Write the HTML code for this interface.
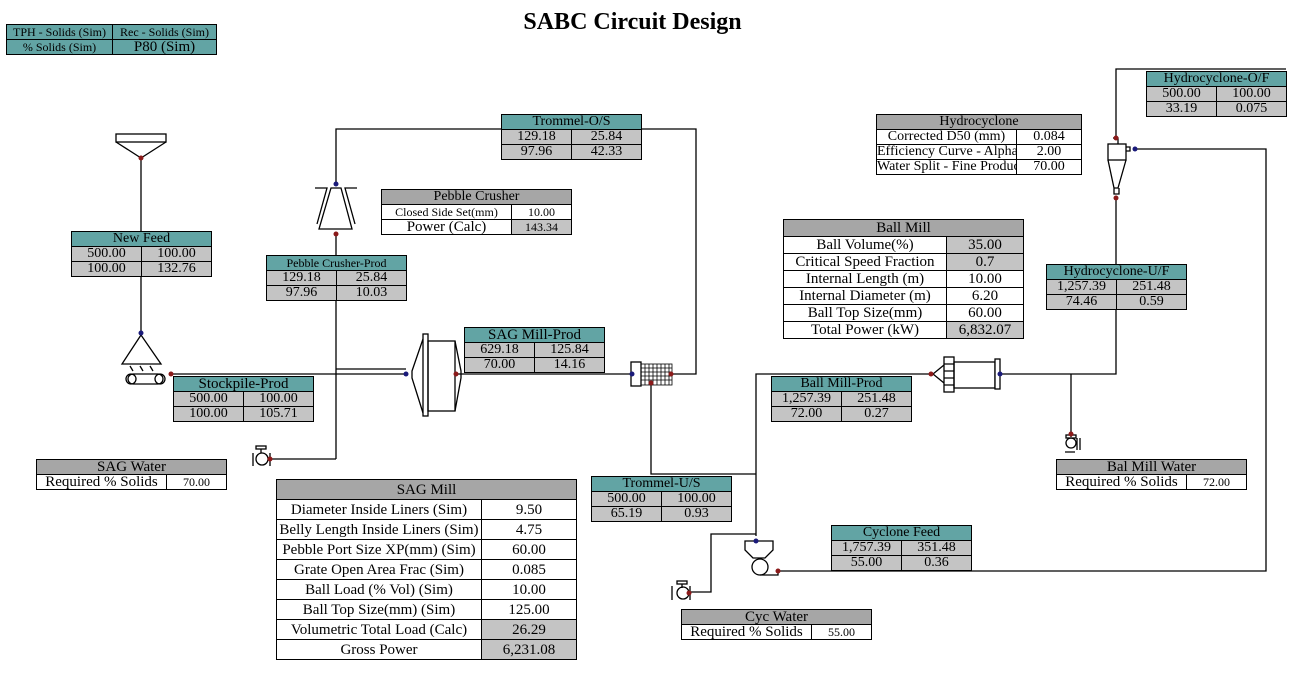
<!DOCTYPE html>
<html><head><meta charset="utf-8"><style>
body{margin:0;width:1297px;height:676px;background:#fff;position:relative;overflow:hidden;font-family:"Liberation Serif",serif;}
.t{position:absolute;border-collapse:collapse;font-size:14px;line-height:14px;table-layout:fixed}
.t td{border:1px solid #000;padding:0 2px;text-align:center;white-space:nowrap;overflow:hidden;height:14px}
.h{background:#62a4a4}
.g{background:#c4c4c4}
.d{background:#a6a6a6}
.w{background:#fff}
svg{position:absolute;left:0;top:0}
#title{position:absolute;left:0;width:1265px;top:9px;text-align:center;font-weight:bold;font-size:24px}
</style></head><body>
<svg width="1297" height="676" fill="none" stroke="#000" stroke-width="1.3">
<rect x="116" y="134" width="50" height="8" fill="#fff"/>
<path d="M116 142 L141 158 L166 142"/>
<line x1="141" y1="158" x2="141" y2="333"/>
<path d="M141 335 L122 364 L161 364 Z"/>
<path d="M130 366 l3 5 M140 366 l3 5 M150 366 l3 5"/>
<rect x="128" y="374" width="35" height="10" rx="5"/>
<circle cx="131" cy="379" r="5"/><circle cx="160" cy="379" r="5"/>
<line x1="171" y1="374" x2="406" y2="374"/>
<line x1="336" y1="369" x2="406" y2="369"/>
<path d="M315 188 L327 188 L317 224 M357 188 L345 188 L355 224 M331 188 L341 188 L352 229 L319 229 Z"/>
<path d="M336 184 L336 129 L501 129 M641 129 L696 129 L696 374 L671 374"/>
<line x1="336" y1="234" x2="336" y2="459"/>
<line x1="271" y1="459" x2="336" y2="459"/>
<rect x="256" y="446" width="10" height="3"/><line x1="261" y1="449" x2="261" y2="453"/>
<circle cx="262" cy="459" r="6"/><path d="M253 453v13M270 453v13"/>
<rect x="423" y="334" width="5" height="82" fill="#fff"/>
<rect x="428" y="341" width="27" height="70"/>
<path d="M423 339 L412 371 L412 378 L423 413 M455 341 L461 371 L461 378 L455 411"/>
<line x1="456" y1="374" x2="632" y2="374"/>
<rect x="631" y="362" width="10" height="24" fill="#fff"/>
<g stroke-width="0.8"><rect x="641" y="364" width="31" height="21"/>
<path d="M641 368h31M641 372h31M641 376h31M641 380h31M645 364v21M649 364v21M653 364v21M657 364v21M661 364v21M665 364v21M669 364v21"/></g>
<path d="M651 383 L651 474 L756 474"/>
<path d="M756 536 L756 374 L931 374"/>
<path d="M933 374 L944 365 M933 374 L944 383"/>
<rect x="944" y="357" width="10" height="35" fill="#fff"/>
<path d="M944 364h10M944 371h10M944 378h10M944 385h10"/>
<rect x="954" y="362" width="41" height="26"/>
<rect x="995" y="359" width="5" height="30" fill="#fff"/>
<path d="M1000 374 L1116 374 L1116 198"/>
<path d="M1071 374 L1071 437"/>
<rect x="1066" y="435" width="10" height="3"/><circle cx="1071" cy="443" r="5"/><path d="M1065 452h10M1077 438v12M1080 438v12"/>
<path d="M745 541 L773 541 L773 550 L765 558 L753 558 L745 550 Z"/>
<circle cx="760" cy="567" r="8"/><path d="M760 575 L778 575 L778 569"/>
<path d="M778 571 L1266 571 L1266 149 L1135 149"/>
<path d="M690 592 L711 592 L711 534 L756 534"/>
<rect x="677" y="581" width="10" height="3"/><line x1="682" y1="584" x2="682" y2="588"/>
<circle cx="683" cy="593" r="6"/><path d="M672 586v14M690 586v14"/>
<rect x="1108" y="144" width="18" height="16"/>
<path d="M1108 160 L1114 188 L1118 188 L1126 160 M1114 188v6h5v-6"/>
<path d="M1113 138 h5 v6 M1126 147 h4 v4 h-4"/>
<path d="M1116 138 L1116 69 L1286 69"/>
<g stroke="none">
<circle cx="141" cy="158" r="2.5" fill="#8b1a1a"/>
<circle cx="141" cy="333" r="2.5" fill="#1a1a7a"/>
<circle cx="171" cy="374" r="2.5" fill="#8b1a1a"/>
<circle cx="336" cy="184" r="2.5" fill="#1a1a7a"/>
<circle cx="336" cy="234" r="2.5" fill="#8b1a1a"/>
<circle cx="406" cy="374" r="2.5" fill="#1a1a7a"/>
<circle cx="456" cy="374" r="2.5" fill="#8b1a1a"/>
<circle cx="270" cy="459" r="2.5" fill="#8b1a1a"/>
<circle cx="632" cy="374" r="2.5" fill="#1a1a7a"/>
<circle cx="671" cy="374" r="2.5" fill="#8b1a1a"/>
<circle cx="651" cy="383" r="2.5" fill="#8b1a1a"/>
<circle cx="931" cy="374" r="2.5" fill="#8b1a1a"/>
<circle cx="1000" cy="374" r="2.5" fill="#1a1a7a"/>
<circle cx="1116" cy="138" r="2.5" fill="#8b1a1a"/>
<circle cx="1116" cy="198" r="2.5" fill="#8b1a1a"/>
<circle cx="1135" cy="149" r="2.5" fill="#1a1a7a"/>
<circle cx="756" cy="541" r="2.5" fill="#1a1a7a"/>
<circle cx="778" cy="571" r="2.5" fill="#8b1a1a"/>
<circle cx="689" cy="593" r="2.5" fill="#8b1a1a"/>
<circle cx="1071" cy="434" r="2.5" fill="#8b1a1a"/>
</g>
</svg>
<div id="title">SABC Circuit Design</div>

<table class="t" style="left:6px;top:24px;width:211px;font-size:12px"><col style="width:106px"><col>
<tr><td class="h">TPH - Solids (Sim)</td><td class="h">Rec - Solids (Sim)</td></tr>
<tr><td class="h">% Solids (Sim)</td><td class="h" style="font-size:15px">P80 (Sim)</td></tr></table>

<table class="t" style="left:71px;top:231px;width:141px"><col style="width:70px"><col>
<tr><td colspan="2" class="h">New Feed</td></tr>
<tr><td class="g">500.00</td><td class="g">100.00</td></tr>
<tr><td class="g">100.00</td><td class="g">132.76</td></tr></table>

<table class="t" style="left:266px;top:255px;width:141px"><col style="width:70px"><col>
<tr><td colspan="2" class="h" style="font-size:12px">Pebble Crusher-Prod</td></tr>
<tr><td class="g">129.18</td><td class="g">25.84</td></tr>
<tr><td class="g">97.96</td><td class="g">10.03</td></tr></table>

<table class="t" style="left:501px;top:114px;width:141px"><col style="width:70px"><col>
<tr><td colspan="2" class="h">Trommel-O/S</td></tr>
<tr><td class="g">129.18</td><td class="g">25.84</td></tr>
<tr><td class="g">97.96</td><td class="g">42.33</td></tr></table>

<table class="t" style="left:464px;top:327px;width:141px"><col style="width:70px"><col>
<tr><td colspan="2" class="h" style="font-size:15px">SAG Mill-Prod</td></tr>
<tr><td class="g">629.18</td><td class="g">125.84</td></tr>
<tr><td class="g">70.00</td><td class="g">14.16</td></tr></table>

<table class="t" style="left:173px;top:376px;width:141px"><col style="width:70px"><col>
<tr><td colspan="2" class="h" style="font-size:15px">Stockpile-Prod</td></tr>
<tr><td class="g">500.00</td><td class="g">100.00</td></tr>
<tr><td class="g">100.00</td><td class="g">105.71</td></tr></table>

<table class="t" style="left:591px;top:476px;width:141px"><col style="width:70px"><col>
<tr><td colspan="2" class="h">Trommel-U/S</td></tr>
<tr><td class="g">500.00</td><td class="g">100.00</td></tr>
<tr><td class="g">65.19</td><td class="g">0.93</td></tr></table>

<table class="t" style="left:771px;top:376px;width:141px"><col style="width:70px"><col>
<tr><td colspan="2" class="h">Ball Mill-Prod</td></tr>
<tr><td class="g">1,257.39</td><td class="g">251.48</td></tr>
<tr><td class="g">72.00</td><td class="g">0.27</td></tr></table>

<table class="t" style="left:831px;top:525px;width:141px"><col style="width:70px"><col>
<tr><td colspan="2" class="h">Cyclone Feed</td></tr>
<tr><td class="g">1,757.39</td><td class="g">351.48</td></tr>
<tr><td class="g">55.00</td><td class="g">0.36</td></tr></table>

<table class="t" style="left:1146px;top:71px;width:141px"><col style="width:70px"><col>
<tr><td colspan="2" class="h">Hydrocyclone-O/F</td></tr>
<tr><td class="g">500.00</td><td class="g">100.00</td></tr>
<tr><td class="g">33.19</td><td class="g">0.075</td></tr></table>

<table class="t" style="left:1046px;top:264px;width:141px"><col style="width:70px"><col>
<tr><td colspan="2" class="h">Hydrocyclone-U/F</td></tr>
<tr><td class="g">1,257.39</td><td class="g">251.48</td></tr>
<tr><td class="g">74.46</td><td class="g">0.59</td></tr></table>

<table class="t" style="left:381px;top:189px;width:191px"><col style="width:130px"><col>
<tr><td colspan="2" class="d">Pebble Crusher</td></tr>
<tr><td class="w" style="font-size:12px">Closed Side Set(mm)</td><td class="w" style="font-size:12px">10.00</td></tr>
<tr><td class="w" style="font-size:15px">Power (Calc)</td><td class="g" style="font-size:12px">143.34</td></tr></table>

<table class="t" style="left:876px;top:114px;width:206px"><col style="width:140px"><col>
<tr><td colspan="2" class="d">Hydrocyclone</td></tr>
<tr><td class="w">Corrected D50 (mm)</td><td class="w">0.084</td></tr>
<tr><td class="w" style="text-align:left;padding:0">Efficiency Curve - Alpha</td><td class="w">2.00</td></tr>
<tr><td class="w" style="text-align:left;padding:0">Water Split - Fine Product</td><td class="w">70.00</td></tr></table>

<table class="t" style="left:783px;top:219px;width:241px;font-size:15px"><col style="width:163px"><col>
<tr><td colspan="2" class="d" style="height:16px">Ball Mill</td></tr>
<tr><td class="w" style="height:16px">Ball Volume(%)</td><td class="g">35.00</td></tr>
<tr><td class="w" style="height:16px">Critical Speed Fraction</td><td class="g">0.7</td></tr>
<tr><td class="w" style="height:16px">Internal Length (m)</td><td class="w">10.00</td></tr>
<tr><td class="w" style="height:16px">Internal Diameter (m)</td><td class="w">6.20</td></tr>
<tr><td class="w" style="height:16px">Ball Top Size(mm)</td><td class="w">60.00</td></tr>
<tr><td class="w" style="height:16px">Total Power (kW)</td><td class="g">6,832.07</td></tr></table>

<table class="t" style="left:276px;top:479px;width:301px;font-size:15px"><col style="width:205px"><col>
<tr><td colspan="2" class="d" style="height:19px">SAG Mill</td></tr>
<tr><td class="w" style="height:19px">Diameter Inside Liners (Sim)</td><td class="w">9.50</td></tr>
<tr><td class="w" style="height:19px">Belly Length Inside Liners (Sim)</td><td class="w">4.75</td></tr>
<tr><td class="w" style="height:19px">Pebble Port Size XP(mm) (Sim)</td><td class="w">60.00</td></tr>
<tr><td class="w" style="height:19px">Grate Open Area Frac (Sim)</td><td class="w">0.085</td></tr>
<tr><td class="w" style="height:19px">Ball Load (% Vol) (Sim)</td><td class="w">10.00</td></tr>
<tr><td class="w" style="height:19px">Ball Top Size(mm) (Sim)</td><td class="w">125.00</td></tr>
<tr><td class="w" style="height:19px">Volumetric Total Load (Calc)</td><td class="g">26.29</td></tr>
<tr><td class="w" style="height:19px">Gross Power</td><td class="g">6,231.08</td></tr></table>

<table class="t" style="left:36px;top:459px;width:191px;font-size:15px"><col style="width:130px"><col>
<tr><td colspan="2" class="d">SAG Water</td></tr>
<tr><td class="w">Required % Solids</td><td class="w" style="font-size:12px">70.00</td></tr></table>

<table class="t" style="left:1056px;top:459px;width:191px;font-size:15px"><col style="width:130px"><col>
<tr><td colspan="2" class="d">Bal Mill Water</td></tr>
<tr><td class="w">Required % Solids</td><td class="w" style="font-size:12px">72.00</td></tr></table>

<table class="t" style="left:681px;top:609px;width:191px;font-size:15px"><col style="width:130px"><col>
<tr><td colspan="2" class="d">Cyc Water</td></tr>
<tr><td class="w">Required % Solids</td><td class="w" style="font-size:12px">55.00</td></tr></table>
</body></html>
